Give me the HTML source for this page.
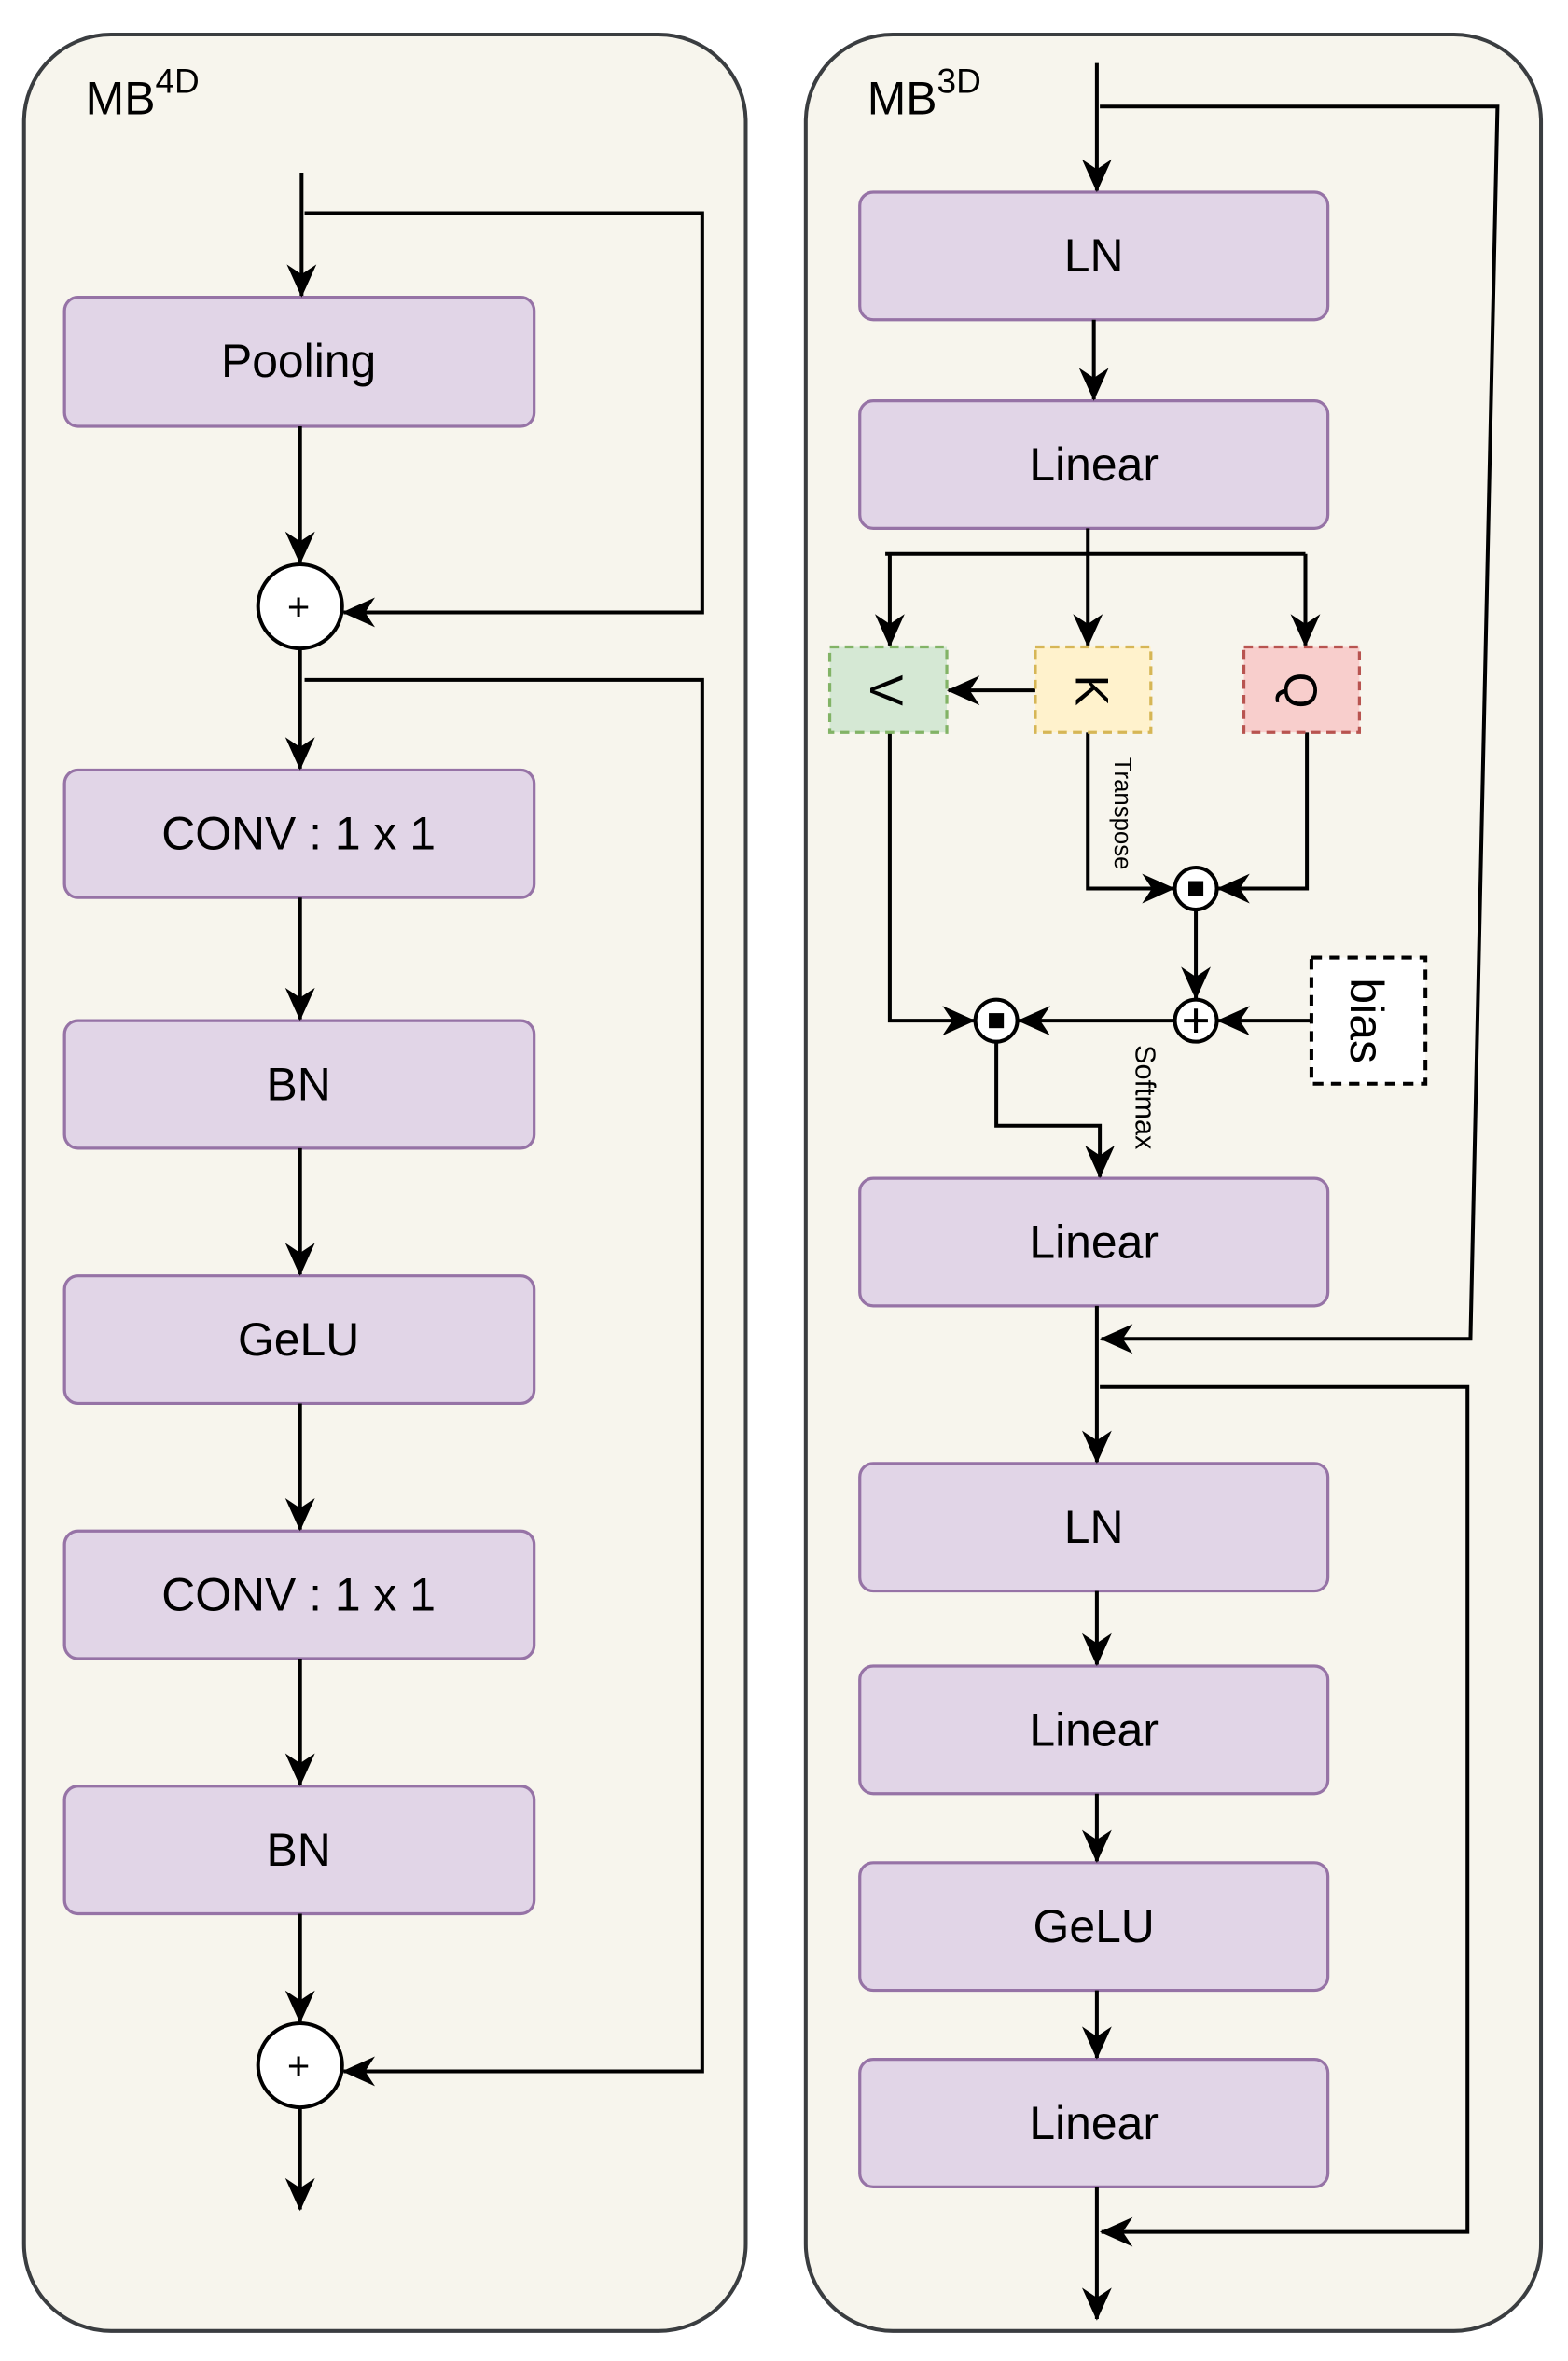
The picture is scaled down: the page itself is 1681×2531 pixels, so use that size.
<!DOCTYPE html>
<html><head><meta charset="utf-8"><style>html,body{margin:0;padding:0;background:#fff}svg{display:block}</style></head><body>
<svg width="1681" height="2531" viewBox="0 0 1045 1573" preserveAspectRatio="none" xmlns="http://www.w3.org/2000/svg" font-family="Liberation Sans, Arial, sans-serif">
<defs>
<marker id="a" viewBox="0 0 20 20" refX="19" refY="10" markerWidth="24" markerHeight="22" markerUnits="userSpaceOnUse" orient="auto">
<path d="M0,1 L20,10 L0,19 L6,10 Z" fill="#000"/></marker>
<marker id="b" viewBox="0 0 20 20" refX="19" refY="10" markerWidth="18" markerHeight="17" markerUnits="userSpaceOnUse" orient="auto">
<path d="M0,1 L20,10 L0,19 L6,10 Z" fill="#000"/></marker>
</defs>
<rect x="0" y="0" width="1045" height="1573" fill="#fff"/>
<rect x="16" y="23" width="481" height="1530" rx="58" fill="#f7f5ed" stroke="#3a3d40" stroke-width="2.5"/>
<rect x="537" y="23" width="490" height="1530" rx="58" fill="#f7f5ed" stroke="#3a3d40" stroke-width="2.5"/>
<text x="57" y="76" font-size="31">MB<tspan dy="-14" font-size="23">4D</tspan></text>
<text x="578" y="76" font-size="31">MB<tspan dy="-14" font-size="23">3D</tspan></text>
<g fill="#e1d5e7" stroke="#9673a6" stroke-width="2">
<rect x="43" y="198" width="313" height="86" rx="9"/>
<rect x="43" y="513" width="313" height="85" rx="9"/>
<rect x="43" y="680" width="313" height="85" rx="9"/>
<rect x="43" y="850" width="313" height="85" rx="9"/>
<rect x="43" y="1020" width="313" height="85" rx="9"/>
<rect x="43" y="1190" width="313" height="85" rx="9"/>
<rect x="573" y="128" width="312" height="85" rx="9"/>
<rect x="573" y="267" width="312" height="85" rx="9"/>
<rect x="573" y="785" width="312" height="85" rx="9"/>
<rect x="573" y="975" width="312" height="85" rx="9"/>
<rect x="573" y="1110" width="312" height="85" rx="9"/>
<rect x="573" y="1241" width="312" height="85" rx="9"/>
<rect x="573" y="1372" width="312" height="85" rx="9"/>
</g>
<g font-size="31" text-anchor="middle" fill="#000">
<text x="199" y="251">Pooling</text>
<text x="199" y="566">CONV : 1 x 1</text>
<text x="199" y="733">BN</text>
<text x="199" y="903">GeLU</text>
<text x="199" y="1073">CONV : 1 x 1</text>
<text x="199" y="1243">BN</text>
<text x="729" y="181">LN</text>
<text x="729" y="320">Linear</text>
<text x="729" y="838">Linear</text>
<text x="729" y="1028">LN</text>
<text x="729" y="1163">Linear</text>
<text x="729" y="1294">GeLU</text>
<text x="729" y="1425">Linear</text>
</g>
<g fill="none" stroke="#000" stroke-width="2.5">
<path d="M201,115 L201,197" marker-end="url(#a)"/>
<path d="M203,142 L468,142 L468,408 L229,408" marker-end="url(#a)"/>
<path d="M200,284 L200,375" marker-end="url(#a)"/>
<path d="M200,432 L200,512" marker-end="url(#a)"/>
<path d="M203,453 L468,453 L468,1380 L229,1380" marker-end="url(#a)"/>
<path d="M200,598 L200,679" marker-end="url(#a)"/>
<path d="M200,765 L200,849" marker-end="url(#a)"/>
<path d="M200,935 L200,1019" marker-end="url(#a)"/>
<path d="M200,1105 L200,1189" marker-end="url(#a)"/>
<path d="M200,1275 L200,1347" marker-end="url(#a)"/>
<path d="M200,1404 L200,1472" marker-end="url(#a)"/>
<path d="M731,42 L731,127" marker-end="url(#a)"/>
<path d="M733,71 L998,71 L980,892 L734,892" marker-end="url(#a)"/>
<path d="M729,213 L729,266" marker-end="url(#a)"/>
<path d="M725,352 L725,430" marker-end="url(#a)"/>
<path d="M590,369 L870,369"/>
<path d="M593,369 L593,430" marker-end="url(#a)"/>
<path d="M870,369 L870,430" marker-end="url(#a)"/>
<path d="M690,460 L632,460" marker-end="url(#a)"/>
<path d="M725,488 L725,592 L782,592" marker-end="url(#a)"/>
<path d="M871,488 L871,592 L812,592" marker-end="url(#a)"/>
<path d="M797,606 L797,665" marker-end="url(#a)"/>
<path d="M874,680 L812,680" marker-end="url(#a)"/>
<path d="M783,680 L679,680" marker-end="url(#a)"/>
<path d="M593,488 L593,680 L649,680" marker-end="url(#a)"/>
<path d="M664,694 L664,750 L733,750 L733,784" marker-end="url(#a)"/>
<path d="M731,870 L731,974" marker-end="url(#a)"/>
<path d="M733,924 L978,924 L978,1487 L734,1487" marker-end="url(#a)"/>
<path d="M731,1060 L731,1109" marker-end="url(#a)"/>
<path d="M731,1195 L731,1240" marker-end="url(#a)"/>
<path d="M731,1326 L731,1371" marker-end="url(#a)"/>
<path d="M731,1457 L731,1545" marker-end="url(#a)"/>
</g>
<g stroke="#000" stroke-width="2.5" fill="#fff">
<circle cx="200" cy="404" r="28"/>
<circle cx="200" cy="1376" r="28"/>
<circle cx="797" cy="592" r="14"/>
<circle cx="797" cy="680" r="14"/>
<circle cx="664" cy="680" r="14"/>
</g>
<g font-size="26" text-anchor="middle"><text x="199" y="413">+</text><text x="199" y="1385">+</text></g>
<g stroke="#000" stroke-width="2.5"><path d="M789,680 H805 M797,672 V688"/></g>
<rect x="792" y="587" width="10" height="10" fill="#000"/>
<rect x="659" y="675" width="10" height="10" fill="#000"/>
<rect x="553" y="431" width="78" height="57" fill="#d5e8d4" stroke="#82b366" stroke-width="2" stroke-dasharray="6,4"/>
<rect x="690" y="431" width="77" height="57" fill="#fff2cc" stroke="#d6b656" stroke-width="2" stroke-dasharray="6,4"/>
<rect x="829" y="431" width="77" height="57" fill="#f8cecc" stroke="#b85450" stroke-width="2" stroke-dasharray="6,4"/>
<rect x="874" y="638" width="76" height="84" fill="#fff" stroke="#000" stroke-width="2.5" stroke-dasharray="7,5"/>
<g font-size="31" text-anchor="middle">
<text transform="translate(580,460) rotate(90)">V</text>
<text transform="translate(717,460) rotate(90)">K</text>
<text transform="translate(856,460) rotate(90)">Q</text>
<text transform="translate(900,680) rotate(90)">bias</text>
</g>
<g text-anchor="middle">
<text transform="translate(743,542) rotate(90)" font-size="16">Transpose</text>
<text transform="translate(757,731) rotate(90)" font-size="19">Softmax</text>
</g>
</svg>
</body></html>
